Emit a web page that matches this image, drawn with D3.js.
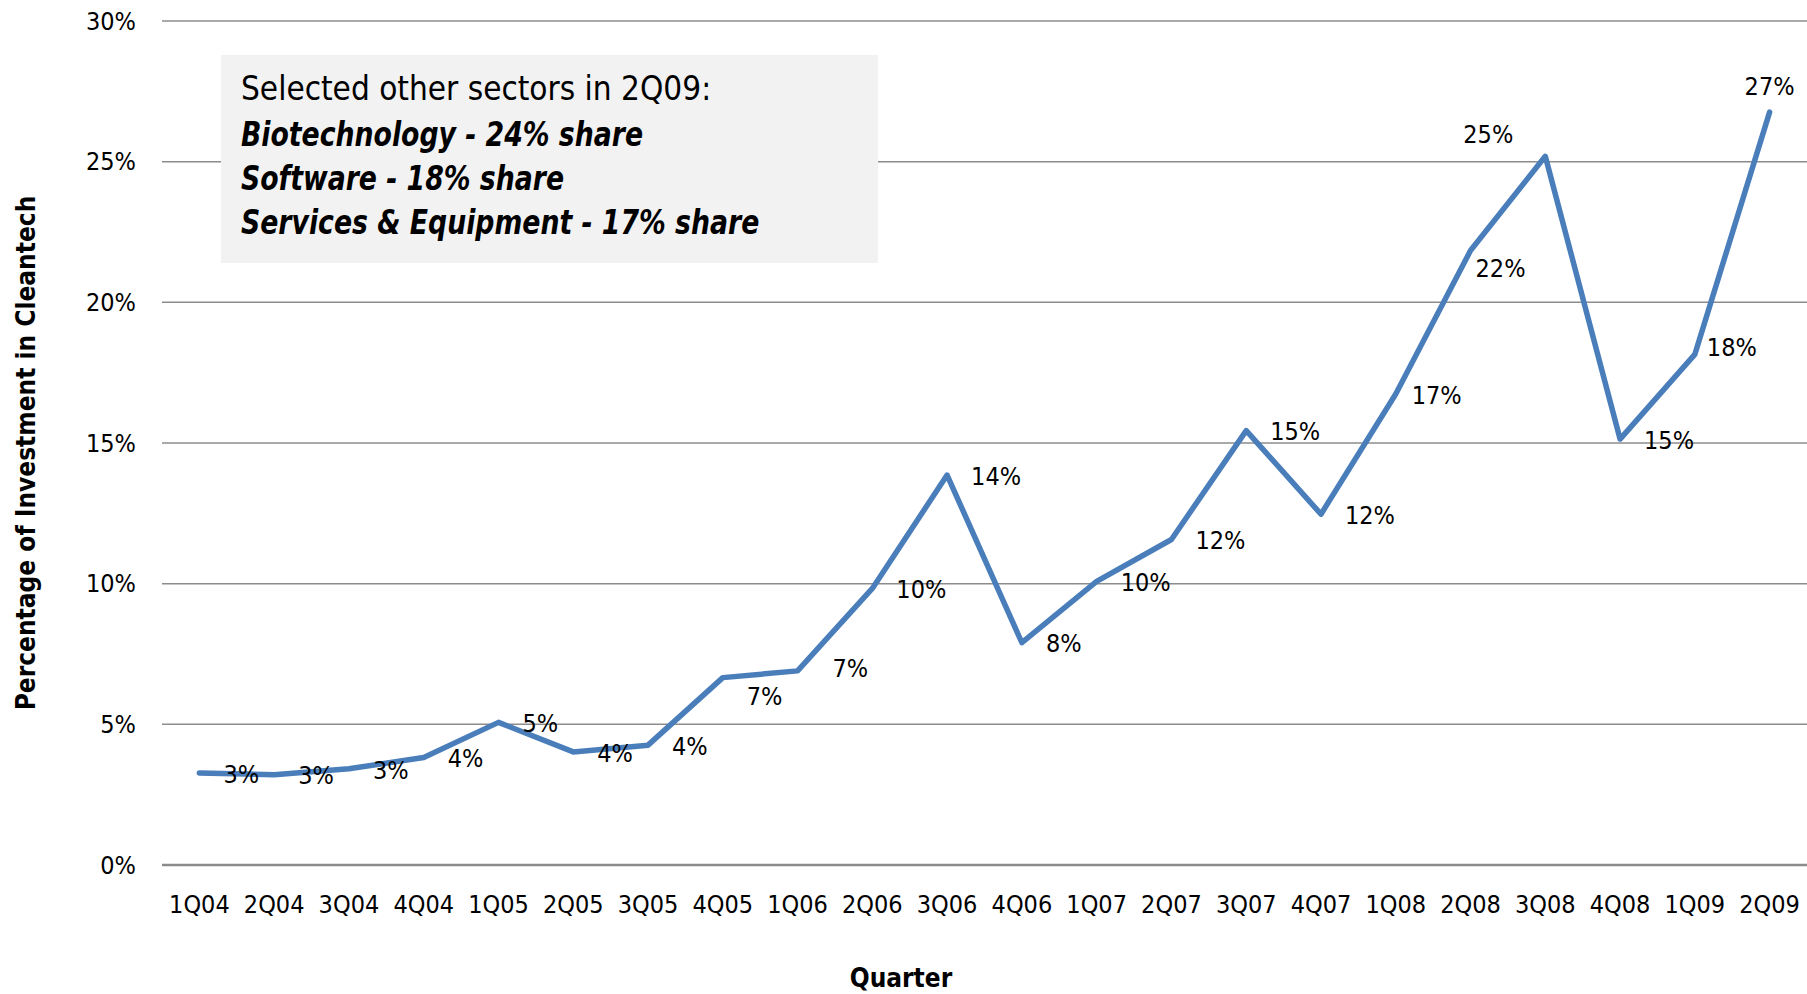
<!DOCTYPE html>
<html>
<head>
<meta charset="utf-8">
<script src="https://cdn.jsdelivr.net/npm/d3@7"></script>
<style>
  html, body { margin: 0; padding: 0; background: #ffffff; }
  svg { display: block; }
  text { font-family: "Liberation Sans Narrow", "DejaVu Sans Condensed", "Arial Narrow", sans-serif; fill: #000; }
</style>
</head>
<body>
<svg id="chart" width="1807" height="994"></svg>
<script>
// Quarterly share of venture investment going to cleantech
const quarters = ["1Q04","2Q04","3Q04","4Q04","1Q05","2Q05","3Q05","4Q05","1Q06","2Q06","3Q06",
                  "4Q06","1Q07","2Q07","3Q07","4Q07","1Q08","2Q08","3Q08","4Q08","1Q09","2Q09"];
const sharePct = [3.27, 3.21, 3.42, 3.82, 5.07, 4.02, 4.26, 6.66, 6.90, 9.83, 13.86,
                  7.90, 10.08, 11.57, 15.44, 12.47, 16.74, 21.84, 25.19, 15.14, 18.15, 26.76];
const yTicks = [0, 5, 10, 15, 20, 25, 30];
const noteTitle = "Selected other sectors in 2Q09:";
const noteLines = ["Biotechnology - 24% share", "Software - 18% share", "Services & Equipment - 17% share"];

const svg = d3.select("#chart");
const margin = { left: 162, right: 0, top: 21, bottom: 129 };
const W = 1807, H = 994;

const x = d3.scaleBand().domain(quarters).range([margin.left, W - margin.right]);
const y = d3.scaleLinear().domain([0, 30]).range([H - margin.bottom, margin.top]);
const cx = q => x(q) + x.bandwidth() / 2;

// horizontal gridlines
svg.append("g").selectAll("line").data(yTicks).join("line")
  .attr("x1", margin.left).attr("x2", W - margin.right)
  .attr("y1", d => y(d)).attr("y2", d => y(d))
  .attr("stroke", "#8c8c8c")
  .attr("stroke-width", d => d === 0 ? 2.5 : 1.5);

// y axis labels
const yAxis = d3.axisLeft(y).tickValues(yTicks).tickFormat(d => d + "%").tickSize(0).tickPadding(0);
svg.append("g").attr("transform", "translate(136,0)").call(yAxis)
  .call(g => g.select(".domain").remove())
  .selectAll("text")
  .attr("font-size", 25).attr("font-family", null).attr("fill", "#000");

// x axis labels
const xAxis = d3.axisBottom(x).tickSize(0).tickPadding(0);
svg.append("g").attr("transform", `translate(0,${y(0) + 30})`).call(xAxis)
  .call(g => g.select(".domain").remove())
  .selectAll("text")
  .attr("font-size", 25).attr("font-family", null).attr("fill", "#000");

// axis titles
svg.append("text")
  .attr("transform", `translate(35,${453}) rotate(-90)`)
  .attr("text-anchor", "middle")
  .attr("font-size", 26).attr("font-weight", "bold")
  .text("Percentage of Investment in Cleantech");

svg.append("text")
  .attr("x", 901).attr("y", 987)
  .attr("text-anchor", "middle")
  .attr("font-size", 26).attr("font-weight", "bold")
  .text("Quarter");

// annotation box
const note = svg.append("g");
note.append("rect")
  .attr("x", 221).attr("y", 55).attr("width", 657).attr("height", 208)
  .attr("fill", "#f2f2f2");
note.append("text")
  .attr("x", 241).attr("y", 100)
  .attr("font-size", 33).attr("font-weight", 300)
  .text(noteTitle);
note.append("g")
  .attr("transform", "translate(241,0) scale(0.9,1)")
  .selectAll("text").data(noteLines).join("text")
  .attr("x", 0).attr("y", (d, i) => 146 + i * 44)
  .attr("font-size", 33).attr("font-weight", "bold").attr("font-style", "italic")
  .text(d => d);

// series line
const data = quarters.map((q, i) => ({ q, v: sharePct[i] }));
svg.append("path")
  .datum(data)
  .attr("fill", "none")
  .attr("stroke", "#4a7ebb")
  .attr("stroke-width", 5.5)
  .attr("stroke-linejoin", "round")
  .attr("stroke-linecap", "round")
  .attr("d", d3.line().x(d => cx(d.q)).y(d => y(d.v)));

// data labels: right of each point unless nudged
const nudge = {
  "4Q05": { dx: 24, dy: 19 },
  "1Q06": { dx: 35, dy: -3 },
  "1Q08": { dx: 16, dy: 1 },
  "2Q08": { dx: 5, dy: 18 },
  "3Q08": { dx: -57, dy: -22, anchor: "middle" },
  "1Q09": { dx: 12, dy: -7 },
  "2Q09": { dx: 0, dy: -26, anchor: "middle" }
};
const fmt = d3.format(".0%");
svg.append("g").selectAll("text").data(data).join("text")
  .attr("x", d => cx(d.q) + (nudge[d.q] ? nudge[d.q].dx : 24))
  .attr("y", d => y(d.v) + (nudge[d.q] ? nudge[d.q].dy : 1))
  .attr("dy", "0.35em")
  .attr("text-anchor", d => (nudge[d.q] && nudge[d.q].anchor) || "start")
  .attr("font-size", 25)
  .text(d => fmt(d.v / 100));
</script>
</body>
</html>
